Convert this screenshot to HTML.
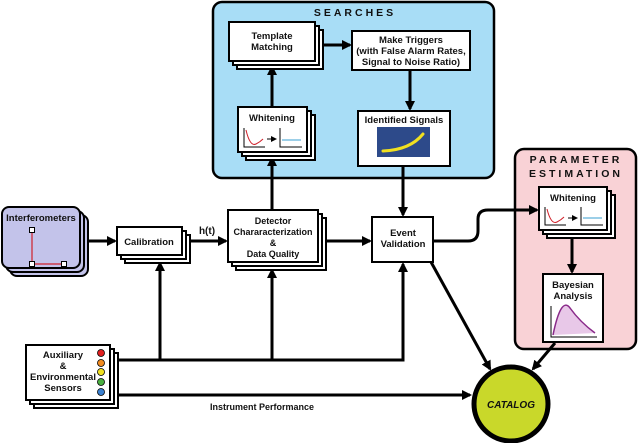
<!DOCTYPE html>
<html><head><meta charset="utf-8"><style>
html,body{margin:0;padding:0;background:#fff}
svg{display:block}
text{font-family:"Liberation Sans",sans-serif;font-weight:bold;fill:#111}
</style></head><body>
<svg width="638" height="443" viewBox="0 0 638 443" xmlns="http://www.w3.org/2000/svg">
<defs>
<marker id="a" markerWidth="10" markerHeight="10" refX="8" refY="5" orient="auto" markerUnits="userSpaceOnUse">
<path d="M0,0 L10,5 L0,10 Z" fill="#000"/></marker>
<marker id="s" markerWidth="6" markerHeight="6" refX="5" refY="3" orient="auto" markerUnits="userSpaceOnUse">
<path d="M0,0 L6,3 L0,6 Z" fill="#000"/></marker>
</defs>
<g stroke="#000" stroke-width="2.5">
<rect x="213" y="2" width="281" height="176" rx="9" fill="#a8ddf6"/>
<rect x="515" y="149" width="121" height="200" rx="9" fill="#f9d2d6"/>
</g>
<text x="355" y="16" font-size="10.5" text-anchor="middle" letter-spacing="3">SEARCHES</text>
<text x="576" y="163" font-size="10.5" text-anchor="middle" letter-spacing="3">PARAMETER</text>
<text x="576" y="177" font-size="10.5" text-anchor="middle" letter-spacing="3">ESTIMATION</text>

<g stroke="#000" stroke-width="3" fill="none">
<line x1="272" y1="107" x2="272" y2="67" marker-end="url(#a)"/>
<line x1="272" y1="210" x2="272" y2="158" marker-end="url(#a)"/>
<line x1="319" y1="45" x2="350" y2="45" marker-end="url(#a)"/>
<line x1="410" y1="70" x2="410" y2="109" marker-end="url(#a)"/>
<line x1="403" y1="166" x2="403" y2="215" marker-end="url(#a)"/>
<line x1="88" y1="241" x2="115" y2="241" marker-end="url(#a)"/>
<line x1="190" y1="241" x2="226" y2="241" marker-end="url(#a)"/>
<line x1="326" y1="241" x2="370" y2="241" marker-end="url(#a)"/>
<path d="M433,241 H468 Q478,241 478,231 V219 Q478,210 488,210 H537" marker-end="url(#a)"/>
<line x1="572" y1="232" x2="572" y2="272" marker-end="url(#a)"/>
<path d="M116,360 H403 V264" marker-end="url(#a)"/>
<line x1="160" y1="360" x2="160" y2="263" marker-end="url(#a)"/>
<line x1="272" y1="360" x2="272" y2="270" marker-end="url(#a)"/>
<line x1="116" y1="395" x2="470" y2="395" marker-end="url(#a)"/>
<line x1="431" y1="262" x2="490" y2="369" marker-end="url(#a)"/>
<line x1="555" y1="343" x2="533" y2="369" marker-end="url(#a)"/>
</g>
<text x="207" y="234" font-size="10" text-anchor="middle">h(t)</text>
<text x="262" y="410" font-size="9" text-anchor="middle">Instrument Performance</text>

<g stroke="#000" stroke-width="2" fill="#fff">
<rect x="237" y="30" width="86" height="39"/><rect x="233" y="26" width="86" height="39"/><rect x="229" y="22" width="86" height="39"/>
<rect x="246" y="115" width="69" height="45"/><rect x="242" y="111" width="69" height="45"/><rect x="238" y="107" width="69" height="45"/>
<rect x="352" y="31" width="118" height="39"/>
<rect x="358" y="111" width="92" height="55"/>
<rect x="10" y="215" width="78" height="61" rx="7" fill="#c3c3ea"/><rect x="6" y="211" width="78" height="61" rx="7" fill="#c3c3ea"/><rect x="2" y="207" width="78" height="61" rx="7" fill="#c3c3ea"/>
<rect x="125" y="235" width="65" height="28"/><rect x="121" y="231" width="65" height="28"/><rect x="117" y="227" width="65" height="28"/>
<rect x="236" y="218" width="90" height="52"/><rect x="232" y="214" width="90" height="52"/><rect x="228" y="210" width="90" height="52"/>
<rect x="372" y="217" width="61" height="45"/>
<rect x="547" y="195" width="68" height="43"/><rect x="543" y="191" width="68" height="43"/><rect x="539" y="187" width="68" height="43"/>
<rect x="543" y="274" width="60" height="68"/>
<rect x="34" y="353" width="84" height="55"/><rect x="30" y="349" width="84" height="55"/><rect x="26" y="345" width="84" height="55"/>
</g>
<circle cx="511" cy="404" r="37" fill="#c9d82a" stroke="#000" stroke-width="5"/>
<text x="511" y="408" font-size="10" text-anchor="middle" font-style="italic">CATALOG</text>

<g font-size="9.5" text-anchor="middle">
<text x="272" y="39">Template</text><text x="272" y="50">Matching</text>
<text x="272" y="121">Whitening</text>
<text x="411" y="43">Make Triggers</text><text x="411" y="54">(with False Alarm Rates,</text><text x="411" y="65">Signal to Noise Ratio)</text>
<text x="404" y="123">Identified Signals</text>
<text x="41" y="221" font-size="9.5">Interferometers</text>
<text x="149" y="245">Calibration</text>
<g font-size="9"><text x="273" y="224">Detector</text><text x="273" y="235">Chararacterization</text><text x="273" y="246">&amp;</text><text x="273" y="257">Data Quality</text></g>
<text x="403" y="236">Event</text><text x="403" y="247">Validation</text>
<text x="573" y="201">Whitening</text>
<text x="573" y="288">Bayesian</text><text x="573" y="299">Analysis</text>
<text x="63" y="358">Auxiliary</text><text x="63" y="369">&amp;</text><text x="63" y="380">Environmental</text><text x="63" y="391">Sensors</text>
</g>

<g fill="none" stroke-width="1">
<path d="M244,128 V147 H265" stroke="#000"/>
<path d="M246,130 Q250,147 256,144 Q260,142 263,139" stroke="#d0202a"/>
<line x1="267" y1="139" x2="276" y2="139" stroke="#000" marker-end="url(#s)"/>
<path d="M280,128 V147 H302" stroke="#000"/>
<line x1="282" y1="140" x2="301" y2="140" stroke="#3a9fd0"/>
<path d="M545,207 V225 H566" stroke="#000"/>
<path d="M547,209 Q551,225 557,222 Q561,220 564,217" stroke="#d0202a"/>
<line x1="568" y1="218" x2="577" y2="218" stroke="#000" marker-end="url(#s)"/>
<path d="M581,207 V225 H603" stroke="#000"/>
<line x1="583" y1="218" x2="602" y2="218" stroke="#3a9fd0"/>
</g>
<rect x="377" y="127" width="53" height="30" fill="#2d4a8a"/>
<path d="M383,151 Q410,150 423,134" stroke="#f0e020" stroke-width="3" fill="none" stroke-linecap="round"/>
<path d="M32,230 V264 H64" stroke="#d0202a" stroke-width="1.2" fill="none"/>
<g fill="#fff" stroke="#000" stroke-width="1"><rect x="29.5" y="227.5" width="5" height="5"/><rect x="29.5" y="261.5" width="5" height="5"/><rect x="61.5" y="261.5" width="5" height="5"/></g>
<path d="M551,306 V337 H597" stroke="#000" stroke-width="1" fill="none"/>
<path d="M553,335 Q561,296 570,308 Q580,322 595,333" stroke="#8a2a8a" stroke-width="1.5" fill="#e8c8e8"/>
<g stroke="#000" stroke-width="0.8">
<circle cx="101" cy="353" r="3.5" fill="#e02020"/>
<circle cx="101" cy="363" r="3.5" fill="#f08a20"/>
<circle cx="101" cy="372" r="3.5" fill="#f0e020"/>
<circle cx="101" cy="382" r="3.5" fill="#4ab040"/>
<circle cx="101" cy="392" r="3.5" fill="#3a80d0"/>
</g>
</svg>
</body></html>
